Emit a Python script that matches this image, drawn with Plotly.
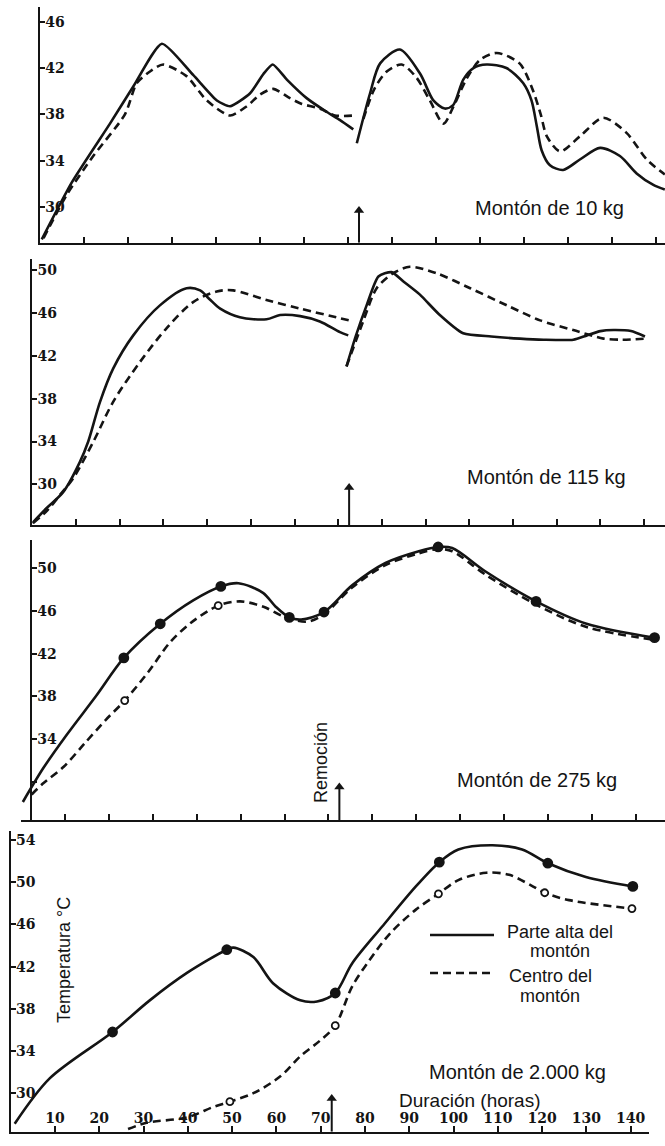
import plotly.graph_objects as go

W, H = 665, 1146

# ---------------- data (hours, °C) ----------------
remocion_h = 72.5

# Montón de 10 kg
p1_top_a_h = [0.4, 7.2, 15.9, 21.2, 27.7, 34.8, 40.2, 43.2, 47.7, 50.8, 52.9, 56.1, 60.6, 65.2, 68.2, 71.2]
p1_top_a_t = [27.2, 32.1, 37.2, 40.4, 44.1, 41.4, 39.2, 38.7, 39.8, 41.5, 42.3, 41.0, 39.4, 38.2, 37.5, 36.7]
p1_cen_a_h = [0.8, 6.0, 12.1, 19.3, 22.0, 25.0, 28.0, 33.3, 37.9, 43.2, 47.0, 50.0, 53.0, 56.8, 59.5, 63.6, 67.0, 71.6]
p1_cen_a_t = [27.3, 31.0, 34.4, 38.0, 40.7, 41.7, 42.3, 41.3, 39.2, 37.9, 38.7, 39.7, 40.2, 39.4, 38.9, 38.5, 37.9, 37.9]
p1_top_b_h = [72.0, 75.0, 77.3, 81.8, 86.4, 89.4, 92.0, 93.9, 96.2, 98.5, 101.5, 106.0, 109.8, 111.7, 112.9, 114.0, 115.9, 118.9, 122.7, 127.3, 131.8, 135.6, 139.4, 142.0]
p1_top_b_t = [35.5, 39.8, 42.4, 43.6, 41.5, 39.2, 38.5, 38.8, 41.0, 42.0, 42.3, 42.0, 40.7, 39.2, 37.0, 34.9, 33.6, 33.2, 34.1, 35.1, 34.4, 32.9, 31.9, 31.5]
p1_cen_b_h = [73.5, 76.0, 78.8, 82.2, 85.5, 88.6, 91.7, 94.0, 97.0, 100.0, 103.8, 109.0, 112.0, 113.8, 115.2, 118.2, 122.7, 128.0, 133.3, 137.9, 142.0]
p1_cen_b_t = [37.6, 40.2, 41.7, 42.3, 41.2, 39.2, 37.2, 38.7, 41.1, 42.7, 43.3, 42.4, 40.1, 38.0, 36.1, 34.8, 36.1, 37.7, 36.4, 34.1, 32.8]

# Montón de 115 kg
p2_top_a_h = [0.0, 3.3, 7.1, 10.9, 12.8, 15.5, 18.5, 23.1, 29.2, 35.3, 38.4, 40.5, 43.0, 47.5, 53.6, 56.7, 61.3, 65.8, 70.4, 72.3]
p2_top_a_t = [26.4, 27.8, 29.3, 32.1, 34.0, 37.7, 40.8, 43.9, 46.7, 48.3, 48.1, 47.3, 46.4, 45.6, 45.4, 45.8, 45.7, 45.2, 44.2, 43.9]
p2_cen_a_h = [0.2, 3.5, 6.3, 9.4, 14.0, 18.5, 24.6, 30.8, 36.8, 42.2, 46.0, 53.6, 61.3, 70.4, 73.5]
p2_cen_a_t = [26.4, 27.6, 29.0, 30.6, 34.0, 37.7, 41.4, 44.6, 47.0, 48.0, 48.1, 47.2, 46.4, 45.5, 45.2]
p2_top_b_h = [71.9, 74.0, 76.5, 79.2, 82.2, 85.0, 88.7, 93.0, 98.6, 105.0, 111.6, 117.0, 123.8, 126.9, 130.0, 133.0, 137.0, 140.2]
p2_top_b_t = [41.0, 43.8, 46.7, 49.4, 49.8, 48.9, 47.7, 45.9, 44.1, 43.8, 43.6, 43.5, 43.5, 43.9, 44.3, 44.4, 44.3, 43.8]
p2_cen_b_h = [71.9, 75.7, 78.8, 82.6, 86.4, 92.5, 100.2, 108.6, 116.2, 123.8, 130.7, 135.0, 140.2]
p2_cen_b_t = [41.0, 45.2, 48.3, 49.7, 50.3, 49.7, 48.3, 46.7, 45.3, 44.4, 43.6, 43.5, 43.6]

# Montón de 275 kg
p3_top_h = [0.4, 5.1, 10.4, 17.2, 23.4, 31.7, 39.2, 45.5, 49.5, 55.1, 58.0, 61.1, 63.8, 69.0, 75.4, 83.0, 90.6, 95.0, 98.2, 105.8, 117.3, 128.8, 144.3]
p3_top_t = [28.1, 31.3, 34.4, 38.1, 41.6, 44.8, 47.0, 48.3, 48.6, 47.7, 46.4, 45.4, 45.2, 45.9, 48.4, 50.5, 51.6, 52.0, 51.9, 49.7, 46.9, 44.8, 43.5]
p3_cen_h = [2.4, 4.9, 9.7, 14.5, 19.3, 23.6, 29.0, 33.8, 38.7, 44.9, 49.9, 55.2, 59.7, 65.1, 69.0, 75.4, 83.0, 90.6, 95.0, 98.2, 105.8, 117.3, 128.8, 144.3]
p3_cen_t = [28.8, 29.8, 31.4, 33.6, 35.8, 37.6, 40.3, 43.0, 44.9, 46.5, 46.9, 46.4, 45.5, 45.0, 45.7, 48.2, 50.3, 51.4, 51.8, 51.6, 49.4, 46.6, 44.5, 43.3]
p3_top_pts_h = [23.4, 31.7, 45.5, 61.1, 69.0, 95.0, 117.3, 144.3]
p3_top_pts_t = [41.6, 44.8, 48.3, 45.4, 45.9, 52.0, 46.9, 43.5]
p3_cen_pts_h = [23.6, 44.9]
p3_cen_pts_t = [37.6, 46.5]

# Montón de 2.000 kg
p4_top_h = [0.9, 8.8, 23.0, 31.4, 39.8, 48.8, 50.3, 54.8, 59.3, 65.4, 69.2, 73.3, 77.1, 83.9, 91.5, 96.8, 101.1, 108.8, 115.5, 121.3, 129.9, 140.5]
p4_top_t = [27.1, 31.4, 35.8, 38.8, 41.4, 43.6, 43.8, 42.9, 40.4, 38.8, 38.7, 39.5, 42.3, 45.8, 49.6, 51.9, 53.1, 53.5, 53.1, 51.8, 50.5, 49.6]
p4_cen_h = [26.5, 30.7, 39.8, 45.8, 49.5, 54.8, 60.9, 65.4, 69.9, 73.3, 77.1, 81.0, 85.8, 91.5, 96.6, 101.1, 107.4, 112.6, 117.5, 120.6, 126.1, 140.3]
p4_cen_t = [26.6, 27.2, 27.7, 28.7, 29.2, 30.0, 31.6, 33.5, 35.0, 36.4, 40.1, 42.6, 45.2, 47.4, 48.9, 50.2, 50.9, 50.7, 49.7, 49.0, 48.3, 47.5]
p4_top_pts_h = [23.0, 48.8, 73.3, 96.8, 121.3, 140.5]
p4_top_pts_t = [35.8, 43.6, 39.5, 51.9, 51.8, 49.6]
p4_cen_pts_h = [49.5, 73.3, 96.6, 120.6, 140.3]
p4_cen_pts_t = [29.2, 36.4, 48.9, 49.0, 47.5]

# arrow tip temperature of the "Remoción" arrow in each panel
arrow_tip_t = [29.7, 29.7, 29.5, 29.5]

x_ticks = [10, 20, 30, 40, 50, 60, 70, 80, 90, 100, 110, 120, 130, 140]
x_tick_text = [str(v) for v in x_ticks]
y_ticks = [[30, 34, 38, 42, 46], [30, 34, 38, 42, 46, 50], [34, 38, 42, 46, 50], [30, 34, 38, 42, 46, 50, 54]]
y_minor_ticks = [[], [], [30], []]
panel_titles = ["Montón de 10 kg", "Montón de 115 kg", "Montón de 275 kg", "Montón de 2.000 kg"]
legend_top_lines = ["Parte alta del", "montón"]
legend_cen_lines = ["Centro del", "montón"]
x_title = "Duración (horas)"
y_title = "Temperatura °C"
removal_label = "Remoción"

# ---------------- style ----------------
INK = "#141414"
SANS = "Liberation Sans, Arial, sans-serif"
SERIF = "DejaVu Serif, Liberation Serif, serif"
LW = 2.6
DASH = "8px,5px"


def px(x):
    return x / W


def py(y):
    return 1 - y / H


def yrng(bot, top, ref_t, ref_px, ppd):
    return [ref_t - (bot - ref_px) / ppd, ref_t + (ref_px - top) / ppd]


fig = go.Figure()


def line(i, xs, ys, dashed, smooth=0.9):
    fig.add_trace(go.Scatter(
        x=xs, y=ys, mode="lines", xaxis=f"x{i}", yaxis=f"y{i}",
        line=dict(color=INK, width=LW, dash=DASH if dashed else "solid",
                  shape="spline", smoothing=smooth),
        hoverinfo="skip", showlegend=False))


def pts(i, xs, ys, filled):
    fig.add_trace(go.Scatter(
        x=xs, y=ys, mode="markers", xaxis=f"x{i}", yaxis=f"y{i}",
        marker=dict(size=9 if filled else 7, color=INK if filled else "white",
                    line=dict(color=INK, width=1.8)),
        hoverinfo="skip", showlegend=False))


line(1, p1_top_a_h, p1_top_a_t, False, 0.55)
line(1, p1_cen_a_h, p1_cen_a_t, True, 0.7)
line(1, p1_top_b_h, p1_top_b_t, False, 0.8)
line(1, p1_cen_b_h, p1_cen_b_t, True, 0.8)

line(2, p2_top_a_h, p2_top_a_t, False)
line(2, p2_cen_a_h, p2_cen_a_t, True)
line(2, p2_top_b_h, p2_top_b_t, False, 0.6)
line(2, p2_cen_b_h, p2_cen_b_t, True, 0.8)

line(3, p3_top_h, p3_top_t, False)
line(3, p3_cen_h, p3_cen_t, True)
pts(3, p3_top_pts_h, p3_top_pts_t, True)
pts(3, p3_cen_pts_h, p3_cen_pts_t, False)

line(4, p4_top_h, p4_top_t, False)
line(4, p4_cen_h, p4_cen_t, True)
pts(4, p4_top_pts_h, p4_top_pts_t, True)
pts(4, p4_cen_pts_h, p4_cen_pts_t, False)

# panel geometry (page pixels)
geo = [
    dict(x0=40.0, pph=4.40, xr=665, yb=242.7, yt=6.7, rt=46, rp=21.7, ppd=11.58, ypos=None),
    dict(x0=32.3, pph=4.37, xr=665, yb=525.0, yt=259.0, rt=50, rp=270.0, ppd=10.72, ypos=None),
    dict(x0=21.1, pph=4.39, xr=665, yb=820.0, yt=540.0, rt=50, rp=568.3, ppd=10.67, ypos=31.0),
    dict(x0=10.7, pph=4.428, xr=649, yb=1131.7, yt=831.0, rt=54, rp=840.0, ppd=10.55, ypos=None),
]

tickfont = dict(family=SERIF, size=14, color=INK, weight="bold")
lay = {}
for k, g in enumerate(geo, start=1):
    yr = yrng(g["yb"], g["yt"], g["rt"], g["rp"], g["ppd"])
    xa = dict(domain=[px(g["x0"]), px(g["xr"])],
              range=[0, (g["xr"] - g["x0"]) / g["pph"]],
              anchor=f"y{k}", showline=True, linecolor=INK, linewidth=2,
              showgrid=False, zeroline=False, ticks="inside", ticklen=6, tickwidth=2,
              tickcolor=INK, tickvals=x_ticks, ticktext=x_tick_text,
              showticklabels=(k == 4), ticklabelposition="inside", tickfont=tickfont)
    ya = dict(domain=[py(g["yb"]), py(g["yt"])], range=yr,
              showline=True, linecolor=INK, linewidth=2, showgrid=False, zeroline=False,
              ticks="inside", ticklen=5, tickwidth=2, tickcolor=INK,
              tickvals=y_ticks[k - 1], ticktext=[str(v) for v in y_ticks[k - 1]],
              ticklabelposition="inside", tickfont=tickfont)
    if y_minor_ticks[k - 1]:
        ya["minor"] = dict(tickvals=y_minor_ticks[k - 1], ticks="inside", ticklen=5,
                           tickwidth=2, tickcolor=INK, showgrid=False)
    if g["ypos"] is not None:
        ya["anchor"] = "free"
        ya["position"] = px(g["ypos"])
    else:
        ya["anchor"] = f"x{k}"
    lay["xaxis" if k == 1 else f"xaxis{k}"] = xa
    lay["yaxis" if k == 1 else f"yaxis{k}"] = ya

    # "Remoción" arrow: shaft from the time axis up to the tip, with a head
    tip = arrow_tip_t[k - 1]
    fig.add_trace(go.Scatter(
        x=[remocion_h, remocion_h], y=[yr[0], tip], mode="lines",
        xaxis=f"x{k}", yaxis=f"y{k}", line=dict(color=INK, width=2),
        hoverinfo="skip", showlegend=False, cliponaxis=False))
    fig.add_trace(go.Scatter(
        x=[remocion_h], y=[tip], mode="markers", xaxis=f"x{k}", yaxis=f"y{k}",
        marker=dict(symbol="triangle-up", size=9, color=INK, line=dict(width=0)),
        hoverinfo="skip", showlegend=False, cliponaxis=False))


def note(x, y, text, size, angle=0):
    return dict(x=px(x), y=py(y), xref="paper", yref="paper", text=text, showarrow=False,
                textangle=angle, font=dict(family=SANS, size=size, color=INK),
                xanchor="center", yanchor="middle")


annotations = []
title_pos = [(549, 208), (546, 477), (537, 780), (517, 1072)]
for (x, y), t in zip(title_pos, panel_titles):
    annotations.append(note(x, y, t, 20))

annotations += [
    note(470, 1100, x_title, 19),
    note(321, 763, removal_label, 18, -90),
    note(64, 960, y_title, 18, -90),
    note(560, 932, legend_top_lines[0], 18),
    note(560, 951, legend_top_lines[1], 18),
    note(550, 976, legend_cen_lines[0], 18),
    note(550, 996, legend_cen_lines[1], 18),
]

shapes = [
    dict(type="line", xref="paper", yref="paper", x0=px(430), x1=px(494), y0=py(935), y1=py(935),
         line=dict(color=INK, width=LW)),
    dict(type="line", xref="paper", yref="paper", x0=px(430), x1=px(494), y0=py(973), y1=py(973),
         line=dict(color=INK, width=LW, dash=DASH)),
]

fig.update_layout(width=W, height=H, margin=dict(l=0, r=0, t=0, b=0),
                  paper_bgcolor="white", plot_bgcolor="white", showlegend=False,
                  annotations=annotations, shapes=shapes, **lay)

fig.write_html("out.html")
